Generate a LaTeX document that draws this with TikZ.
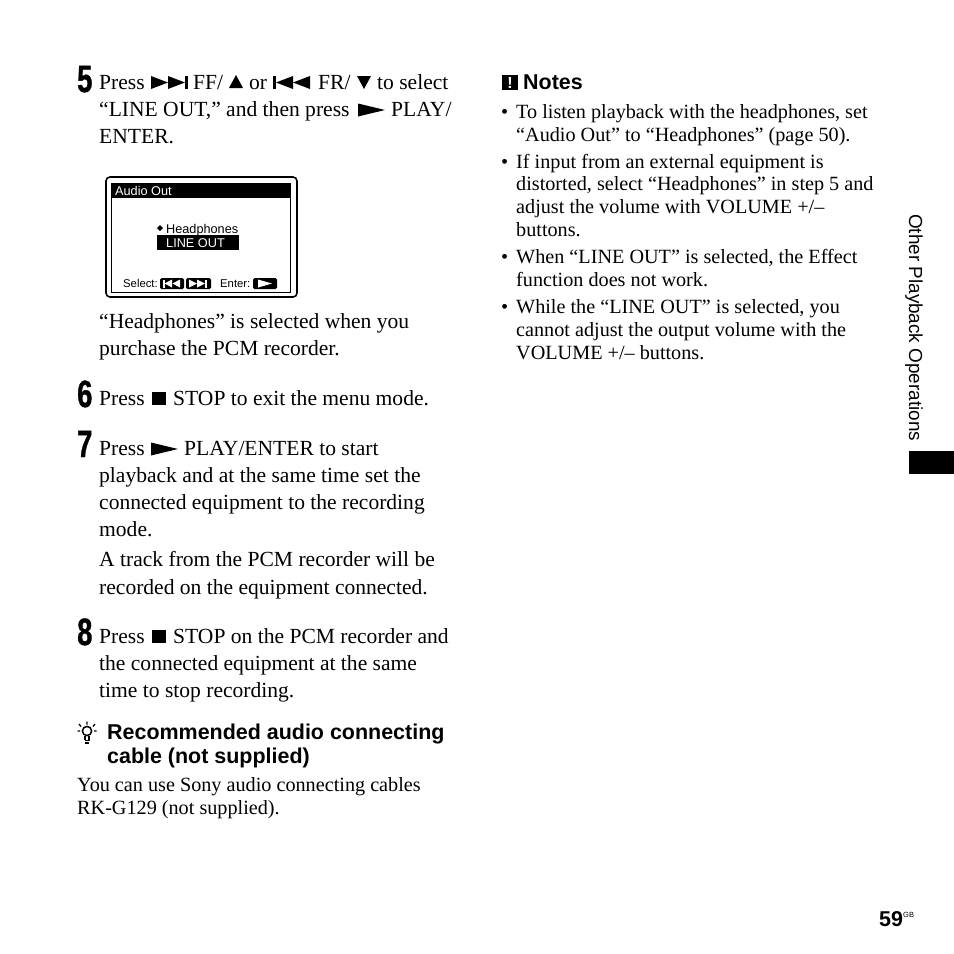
\documentclass[tikz,border=0pt]{standalone}
\usepackage{fontspec}
\setmainfont{Liberation Serif}
\setsansfont{Liberation Sans}
\newfontfamily\stepfont[FakeBold=1.2]{Liberation Sans Bold}
\tikzset{
  body/.style={anchor=base west,inner sep=0pt,font=\fontsize{21.55}{27}\selectfont},
  small/.style={anchor=base west,inner sep=0pt,font=\fontsize{20.2}{23}\selectfont},
  head/.style={anchor=base west,inner sep=0pt,font=\sffamily\bfseries\fontsize{21.45}{24}\selectfont},
  lcd/.style={anchor=base west,inner sep=0pt,font=\sffamily\fontsize{12.7}{14}\selectfont},
  lcdsmall/.style={anchor=base west,inner sep=0pt,font=\sffamily\fontsize{11.3}{12}\selectfont},
  stepnum/.style={anchor=base west,inner sep=0pt,font=\stepfont\fontsize{38}{38}\selectfont},
}
\newcommand{\stepdigit}[3]{\node[stepnum] (#1) at (77,#2) {\scalebox{0.72}[1]{#3}};}
% play triangle: left x, middle y
\newcommand{\playicon}[2]{\fill (#1,#2-6.5) -- (#1+27,#2) -- (#1,#2+6.5) -- cycle;}
\newcommand{\stopicon}[2]{\fill (#1,#2) rectangle ++(14,13);}
\begin{document}
\begin{tikzpicture}[x=1pt,y=-1pt]
  \useasboundingbox (0,0) rectangle (954,954);

  % step 5
  \stepdigit{stepfive}{92}{5}
  \node[body] (press) at (99,89) {Press};
  \fill (151,76) -- (168,82.5) -- (151,89) -- cycle;
  \fill (168,76) -- (185,82.5) -- (168,89) -- cycle;
  \fill (185,76) rectangle (188,89);
  \node[body] (ff) at (193,89) {FF/};
  \fill (236,75) -- (243,88) -- (229,88) -- cycle;
  \node[body] (or) at (249,89) {or};
  \fill (273,76) rectangle (276,89);
  \fill (293,76) -- (276,82.5) -- (293,89) -- cycle;
  \fill (310,76) -- (293,82.5) -- (310,89) -- cycle;
  \node[body] (fr) at (318,89) {FR/};
  \fill (357,76) -- (371,76) -- (364,89) -- cycle;
  \node[body] (select) at (377,89) {to select};
  \node[body] (lineout) at (99,116) {“LINE OUT,” and then press};
  \playicon{358}{110}
  \node[body] (play) at (391,116) {PLAY/};
  \node[body] (enter) at (99,143) {ENTER.};

  % screen
  \draw[line width=1.6pt,rounded corners=4pt] (106,177) rectangle (297,297);
  \draw[line width=1pt] (111,183) rectangle (290,292);
  \fill (111,183) rectangle (290,198);
  \node[lcd,text=white] (audioout) at (115,195) {Audio Out};
  \fill (160,225) -- (163,228) -- (160,231) -- (157,228) -- cycle;
  \node[lcd] (headphones) at (166,233) {Headphones};
  \fill (157,235) rectangle (239,250);
  \node[lcd,text=white] (lineoutbar) at (166,247.5) {LINE OUT};
  \node[lcdsmall] (sel) at (123,287) {Select:};
  \fill[rounded corners=1.5pt] (160,278) rectangle (184,289);
  \fill[white] (163,279.5) rectangle (164.5,287.5);
  \fill[white] (172,279.5) -- (164.5,283.5) -- (172,287.5) -- cycle;
  \fill[white] (180,279.5) -- (172.5,283.5) -- (180,287.5) -- cycle;
  \fill[rounded corners=1.5pt] (186,278) rectangle (211,289);
  \fill[white] (189,279.5) -- (197,283.5) -- (189,287.5) -- cycle;
  \fill[white] (197,279.5) -- (205,283.5) -- (197,287.5) -- cycle;
  \fill[white] (205,279.5) rectangle (207,287.5);
  \node[lcdsmall] (ent) at (220,287) {Enter:};
  \fill[rounded corners=1.5pt] (253,278) rectangle (277,289);
  \fill[white] (258,279.5) -- (272,283.5) -- (258,287.5) -- cycle;

  \node[body] (hpa) at (99,328) {“Headphones” is selected when you};
  \node[body] (hpb) at (99,355) {purchase the PCM recorder.};

  % step 6
  \stepdigit{stepsix}{407}{6}
  \node[body] (pressb) at (99,405) {Press};
  \stopicon{152}{391.5}
  \node[body] (stop) at (173,405) {STOP to exit the menu mode.};

  % step 7
  \stepdigit{stepseven}{457}{7}
  \node[body] (pressc) at (99,455) {Press};
  \playicon{151}{449}
  \node[body] (playb) at (184,455) {PLAY/ENTER to start};
  \node[body] (sa) at (99,482) {playback and at the same time set the};
  \node[body] (sb) at (99,509) {connected equipment to the recording};
  \node[body] (sc) at (99,536) {mode.};
  \node[body] (sd) at (99,566) {A track from the PCM recorder will be};
  \node[body] (se) at (99,594) {recorded on the equipment connected.};

  % step 8
  \stepdigit{stepeight}{645}{8}
  \node[body] (pressd) at (99,643) {Press};
  \stopicon{152}{629.5}
  \node[body] (stopb) at (173,643) {STOP on the PCM recorder and};
  \node[body] (ta) at (99,670) {the connected equipment at the same};
  \node[body] (tb) at (99,697) {time to stop recording.};

  % hint
  \draw[line width=1.5pt] (87,731) circle (4.6);
  \draw[line width=1.2pt] (85,736) -- (85,740) (89,736) -- (89,740);
  \draw[line width=1.5pt] (84.5,740.5) -- (89.5,740.5) (85,743) -- (89,743);
  \draw[line width=1.3pt] (87,721.5) -- (87,724.5) (79,724) -- (81,726.5) (95,724) -- (93,726.5) (77.5,731) -- (80,731) (94,731) -- (96.5,731);
  \node[head] (reca) at (107,739) {Recommended audio connecting};
  \node[head] (recb) at (107,763) {cable (not supplied)};
  \node[small] (usea) at (77,791) {You can use Sony audio connecting cables};
  \node[small] (useb) at (77,814) {RK-G129 (not supplied).};

  % notes
  \fill (502,75) rectangle (518,90);
  \node[anchor=base,inner sep=0pt,text=white,font=\sffamily\bfseries\fontsize{16}{16}\selectfont] (bang) at (510,88.5) {!};
  \node[head] (notes) at (523,89) {Notes};
  \node[small] (ba) at (501,118) {•};
  \node[small] (na) at (516,118) {To listen playback with the headphones, set};
  \node[small] (nb) at (516,141) {“Audio Out” to “Headphones” (page 50).};
  \node[small] (bb) at (501,168) {•};
  \node[small] (nc) at (516,168) {If input from an external equipment is};
  \node[small] (nd) at (516,190) {distorted, select “Headphones” in step 5 and};
  \node[small] (ne) at (516,213) {adjust the volume with VOLUME +/–};
  \node[small] (nf) at (516,236) {buttons.};
  \node[small] (bc) at (501,263) {•};
  \node[small] (ng) at (516,263) {When “LINE OUT” is selected, the Effect};
  \node[small] (nh) at (516,286) {function does not work.};
  \node[small] (bd) at (501,313) {•};
  \node[small] (ni) at (516,313) {While the “LINE OUT” is selected, you};
  \node[small] (nj) at (516,336) {cannot adjust the output volume with the};
  \node[small] (nk) at (516,359) {VOLUME +/– buttons.};

  % side tab
  \node[anchor=base west,inner sep=0pt,rotate=-90,font=\sffamily\fontsize{18.9}{19}\selectfont] (side) at (909,214) {Other Playback Operations};
  \fill (909,451) rectangle (954,474);

  % page number
  \node[head] (page) at (879,926) {59};
  \node[anchor=base west,inner sep=0pt,font=\sffamily\fontsize{7.5}{8}\selectfont] (gb) at (903,917) {GB};
\end{tikzpicture}
\end{document}
